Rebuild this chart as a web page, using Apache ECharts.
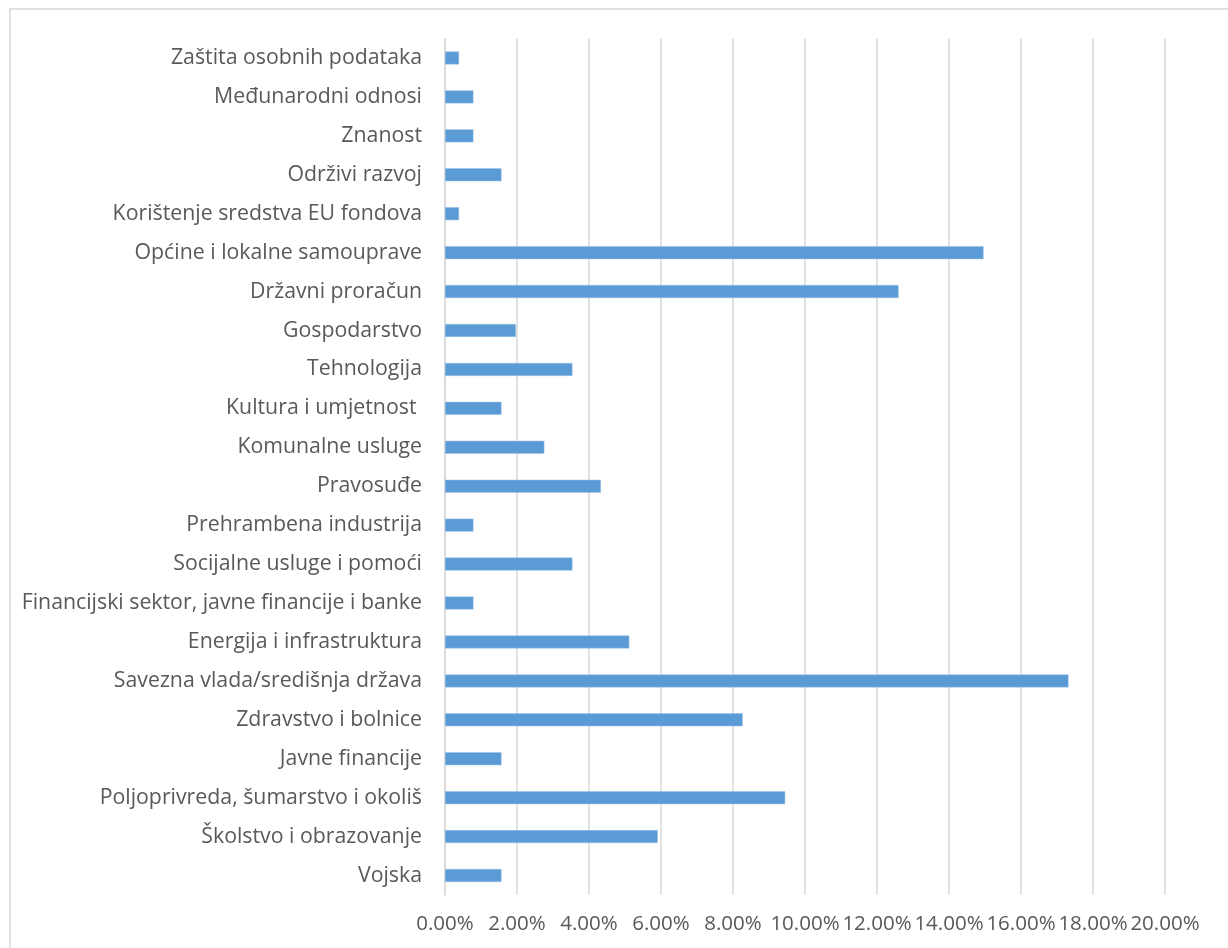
<!DOCTYPE html>
<html>
<head>
<meta charset="utf-8">
<script src="https://cdn.jsdelivr.net/npm/echarts@6/dist/echarts.min.js"></script>
<style>
html,body{margin:0;padding:0;background:#fff;}
#chart{width:1228px;height:948px;}
</style>
</head>
<body>
<div id="chart"></div>
<script>
// Categories listed top to bottom
const categories = [
  "Zaštita osobnih podataka",
  "Međunarodni odnosi",
  "Znanost",
  "Održivi razvoj",
  "Korištenje sredstva EU fondova",
  "Općine i lokalne samouprave",
  "Državni proračun",
  "Gospodarstvo",
  "Tehnologija",
  "Kultura i umjetnost ",
  "Komunalne usluge",
  "Pravosuđe",
  "Prehrambena industrija",
  "Socijalne usluge i pomoći",
  "Financijski sektor, javne financije i banke",
  "Energija i infrastruktura",
  "Savezna vlada/središnja država",
  "Zdravstvo i bolnice",
  "Javne financije",
  "Poljoprivreda, šumarstvo i okoliš",
  "Školstvo i obrazovanje",
  "Vojska"
];
// Shares in percent
const shares = [
  0.39, 0.79, 0.79, 1.57, 0.39, 14.96, 12.60, 1.97, 3.54, 1.57, 2.76,
  4.33, 0.79, 3.54, 0.79, 5.12, 17.32, 8.27, 1.57, 9.45, 5.91, 1.57
];
const xTicks = { min: 0, max: 20, interval: 2 };

const chart = echarts.init(document.getElementById('chart'));
chart.setOption({
  backgroundColor: '#ffffff',
  animation: false,
  graphic: [{
    type: 'rect',
    shape: { x: 10, y: 9, width: 1240, height: 960 },
    style: { fill: 'none', stroke: '#d9d9d9', lineWidth: 1.5 },
    silent: true
  }],
  grid: { left: 445, right: 63, top: 38.5, bottom: 53 },
  xAxis: {
    type: 'value',
    min: xTicks.min, max: xTicks.max, interval: xTicks.interval,
    axisLine: { show: false },
    axisTick: { show: false },
    splitLine: { show: true, lineStyle: { color: '#d9d9d9', width: 1.5 } },
    axisLabel: {
      formatter: v => v.toFixed(2) + '%',
      color: '#595959',
      fontFamily: 'Open Sans',
      fontSize: 20.5,
      margin: 19
    }
  },
  yAxis: {
    type: 'category',
    data: categories,
    inverse: true,
    axisLine: { show: true, lineStyle: { color: '#d9d9d9', width: 1.5 } },
    axisTick: { show: false },
    axisLabel: {
      color: '#595959',
      fontFamily: 'Open Sans',
      fontSize: 21.3,
      margin: 23
    }
  },
  series: [{
    type: 'bar',
    data: shares,
    barWidth: 13,
    itemStyle: { color: '#5b9bd5', borderColor: '#9dc3e6', borderWidth: 0.5 }
  }]
});
</script>
</body>
</html>
